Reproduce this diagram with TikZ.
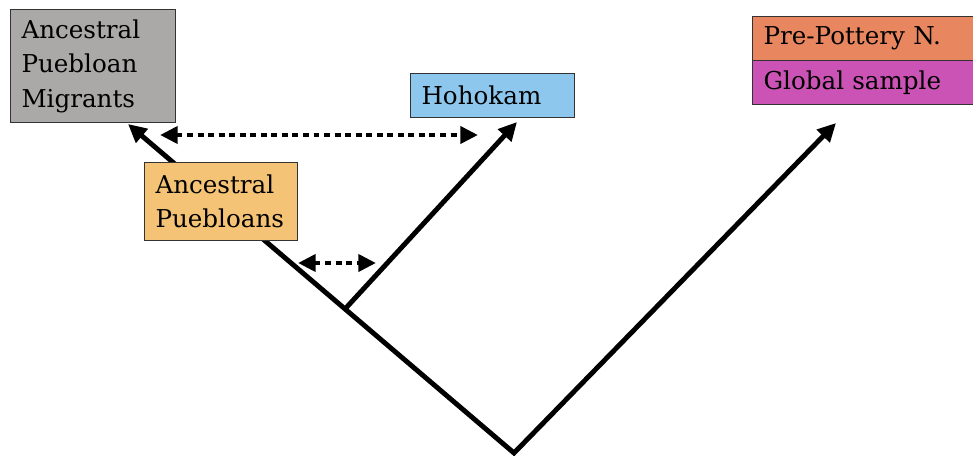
\documentclass[tikz,border=0pt]{standalone}
\usepackage{fontspec}
\setmainfont{DejaVu Serif}
\usetikzlibrary{arrows.meta}

\definecolor{migrantgray}{RGB}{171,168,168}
\definecolor{hohokamblue}{RGB}{142,199,238}
\definecolor{puebloorange}{RGB}{245,195,117}
\definecolor{ppnorange}{RGB}{232,135,95}
\definecolor{globalpink}{RGB}{204,83,182}

\tikzset{
  branch/.style={line width=2.8pt, line join=miter, -{Triangle[length=10.5pt,width=10pt]}},
  mixing/.style={line width=2.8pt, dash pattern=on 3.4pt off 2.6pt,
    {Triangle[length=10pt,width=9.5pt]}-{Triangle[length=10pt,width=9.5pt]}},
  group/.style={draw=black!80, line width=0.6pt, anchor=north west, align=left,
    inner xsep=0.22cm, inner ysep=0pt, font=\fontsize{14}{19.6}\selectfont}
}

\begin{document}
\begin{tikzpicture}[x=0.02cm, y=-0.02cm]
    \useasboundingbox (0,0) rectangle (973,456);

    % points of the tree
    \coordinate (root) at (514,453);
    \coordinate (split) at (345,309);
    \coordinate (migtip) at (128,124);
    \coordinate (hohtip) at (517,122);
    \coordinate (ppntip) at (836,123);

    % the branches
    \draw[branch, {Triangle[length=10.5pt,width=10pt]}-{Triangle[length=10.5pt,width=10pt]}]
      (migtip) -- (root) -- (ppntip);
    \draw[branch] (split) -- (hohtip);

    % gene flow between groups
    \coordinate (flowa) at (160,135);
    \coordinate (flowb) at (478,135);
    \coordinate (flowc) at (298,263);
    \coordinate (flowd) at (376,263);
    \draw[mixing] (flowa) -- (flowb);
    \draw[mixing] (flowc) -- (flowd);

    % the population labels
    \node[group, fill=migrantgray, minimum width=3.3cm, minimum height=2.26cm, text width=2.86cm]
      (migrants) at (10,9) {Ancestral\\Puebloan\\Migrants};
    \node[group, fill=hohokamblue, minimum width=3.28cm, minimum height=0.88cm, text width=2.84cm]
      (hohokam) at (410,73) {Hohokam};
    \node[group, fill=puebloorange, minimum width=3.06cm, minimum height=1.56cm, text width=2.62cm]
      (puebloans) at (144,162) {Ancestral\\Puebloans};
    \node[group, fill=ppnorange, minimum width=4.56cm, minimum height=0.88cm, text width=4.12cm]
      (ppn) at (752,16) {Pre-Pottery N.};
    \node[group, fill=globalpink, minimum width=4.56cm, minimum height=0.88cm, text width=4.12cm]
      (global) at (752,60) {Global sample};

\end{tikzpicture}
\end{document}
